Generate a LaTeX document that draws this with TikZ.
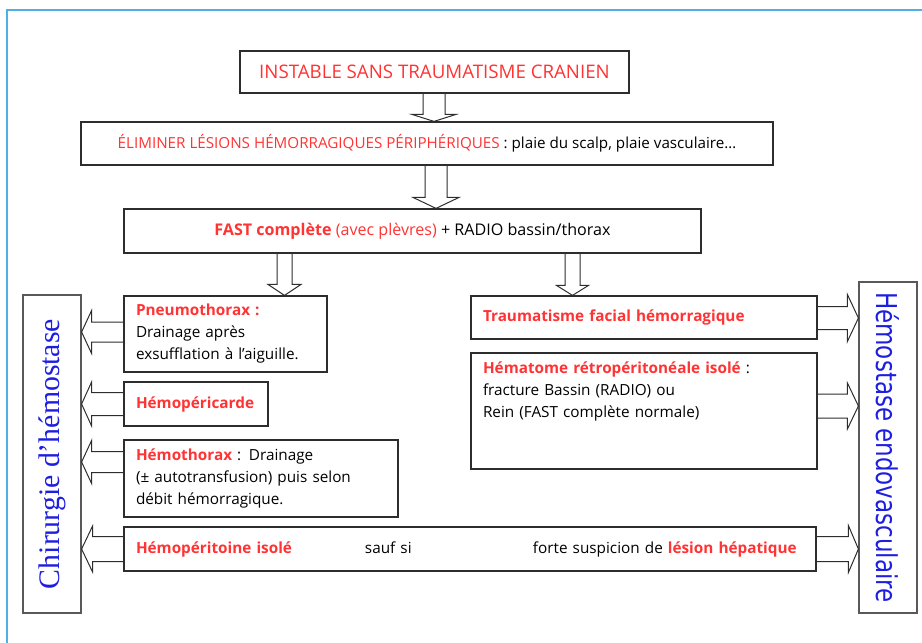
\documentclass[tikz,border=0pt]{standalone}
\usepackage{fontspec}
\setmainfont{Open Sans}
\newfontfamily\chirfont{Liberation Serif}
\newfontfamily\endofont{DejaVu Sans}
\usetikzlibrary{calc}
\definecolor{rd}{RGB}{255,51,51}
\definecolor{bl}{RGB}{30,30,225}
\definecolor{frameblue}{RGB}{80,175,230}
\definecolor{boxline}{RGB}{45,45,45}
\newcommand\rb[1]{\textcolor{rd}{\bfseries #1}}
\newcommand\blkdown[6]{%
  \path (#2.north) ++(0,-#6) coordinate (hb);
  \draw[blk] (#3-#4,0 |- #1.south) -- (#3-#4,0 |- hb) -- (#3-#5,0 |- hb) -- (#3,0 |- #2.north) -- (#3+#5,0 |- hb) -- (#3+#4,0 |- hb) -- (#3+#4,0 |- #1.south);}
\newcommand\blkleft[6]{%
  \path (#2.east) ++(#6,0) coordinate (hb);
  \draw[blk] (#1.west |- 0,#3-#4) -- (hb |- 0,#3-#4) -- (hb |- 0,#3-#5) -- (#2.east |- 0,#3) -- (hb |- 0,#3+#5) -- (hb |- 0,#3+#4) -- (#1.west |- 0,#3+#4);}
\newcommand\blkright[6]{%
  \path (#2.west) ++(-#6,0) coordinate (hb);
  \draw[blk] (#1.east |- 0,#3-#4) -- (hb |- 0,#3-#4) -- (hb |- 0,#3-#5) -- (#2.west |- 0,#3) -- (hb |- 0,#3+#5) -- (hb |- 0,#3+#4) -- (#1.east |- 0,#3+#4);}
\begin{document}
\begin{tikzpicture}[x=1pt,y=-1pt,
  box/.style={draw=boxline, line width=1.2pt, inner xsep=12pt, inner ysep=0pt, align=left,
    font=\fontsize{15.3}{22}\selectfont},
  cbox/.style={draw=boxline, line width=1.2pt, inner sep=0pt, align=center},
  blk/.style={draw=boxline, line width=1pt, line join=miter},
  tall/.style={draw=gray!70!black, line width=1.2pt, inner sep=0pt}]
\useasboundingbox (0,0) rectangle (922,643);
\draw[frameblue, line width=1.6pt] (7,643) -- (7,10) -- (922,10);

\node[cbox, minimum width=389, minimum height=42, text=rd, font=\fontsize{18.7}{22}\selectfont] (b1) at (434.5,72) {INSTABLE SANS TRAUMATISME CRANIEN};
\node[cbox, minimum width=692, minimum height=43, font=\fontsize{15.2}{18}\selectfont] (b2) at (427,143.5) {\raisebox{2pt}{\textcolor{rd}{ÉLIMINER LÉSIONS HÉMORRAGIQUES PÉRIPHÉRIQUES} : plaie du scalp, plaie vasculaire…}};
\node[cbox, minimum width=577, minimum height=44, font=\fontsize{16.1}{18}\selectfont] (b3) at (412.5,231) {\rb{FAST complète} \textcolor{rd}{(avec plèvres)} + RADIO bassin/thorax};

\node[box, text width=179, minimum height=76] (pneu) at (225.5,334) {\rb{Pneumothorax :}\\Drainage après\\exsufflation à l’aiguille.};
\node[box, text width=120, minimum height=44] (peri) at (196,404) {\rb{Hémopéricarde}};
\node[box, text width=250, minimum height=77] (thorax) at (261,478.5) {\rb{Hémothorax} : Drainage\\(± autotransfusion) puis selon\\débit hémorragique.};
\node[box, text width=668, minimum height=44] (perit) at (470,549) {\makebox[229pt][l]{\rb{Hémopéritoine isolé}}\makebox[168pt][l]{sauf si}forte suspicion de \rb{lésion hépatique}};
\node[box, text width=322, minimum height=43] (facial) at (644,317.5) {\rb{Traumatisme facial hémorragique}};
\node[box, text width=322, inner ysep=9pt] (hemat) at (644,411) {\parbox[t][98pt][t]{322pt}{\rb{Hématome rétropéritonéale isolé} :\\fracture Bassin (RADIO) ou\\Rein (FAST complète normale)}};

\node[tall, minimum width=58, minimum height=318] (chir) at (52,454) {\rotatebox{90}{\chirfont\fontsize{29.8}{32}\selectfont\color{bl}Chirurgie d’hémostase}};
\node[tall, minimum width=58, minimum height=331] (endo) at (888,447.5) {\rotatebox{-90}{\scalebox{1}[1.25]{\endofont\fontsize{23}{26}\selectfont\color{bl}Hémostase endovasculaire}}};

\blkdown{b1}{b2}{434}{11}{22}{7}
\blkdown{b2}{b3}{436}{11}{23}{11}
\blkdown{b3}{pneu}{284.5}{7.5}{16.5}{11}
\blkdown{b3}{facial}{572.5}{7.5}{16}{10}
\blkleft{pneu}{chir}{332}{10}{21.5}{10}
\blkleft{peri}{chir}{404}{11.5}{22}{10}
\blkleft{thorax}{chir}{462}{10.5}{21.5}{10}
\blkleft{perit}{chir}{549}{12.5}{23}{11}
\blkright{facial}{endo}{318}{11.5}{23.5}{11}
\blkright{hemat}{endo}{406}{12}{23}{11}
\blkright{perit}{endo}{549}{12.5}{23.5}{10}
\end{tikzpicture}
\end{document}
